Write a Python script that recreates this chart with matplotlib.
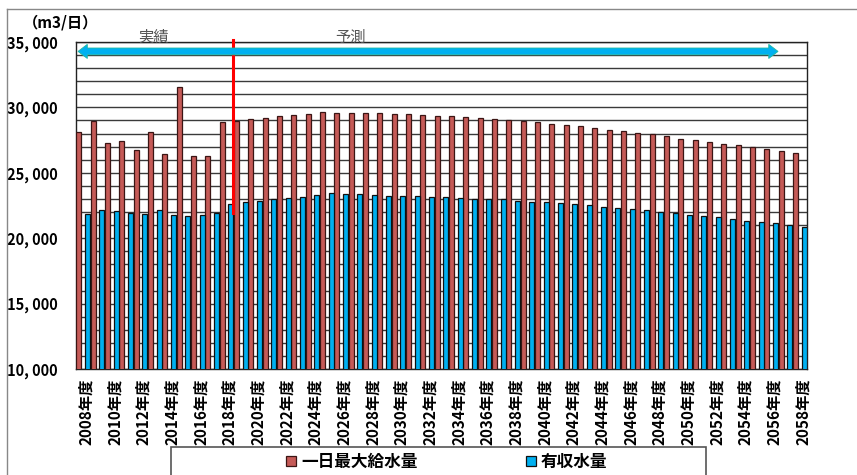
import matplotlib
matplotlib.use('Agg')
import matplotlib.pyplot as plt
import matplotlib.patches as mpatches
from matplotlib.lines import Line2D
import matplotlib.transforms as mtransforms
import numpy as np

plt.rcParams['font.family'] = ['Noto Sans CJK JP', 'DejaVu Sans']

# fiscal years 2008 - 2058
years = list(range(2008, 2059))
xlabels = [str(y) + '年度' for y in years]

# 一日最大給水量 (m3/日)
max_supply = [28150, 28980, 27300, 27400, 26760, 28110, 26430, 31560, 26300, 26300,
              28880, 28950, 29110, 29210, 29310, 29410, 29520, 29640, 29610, 29590,
              29570, 29540, 29490, 29460, 29410, 29360, 29310, 29230, 29180, 29110,
              29060, 28960, 28850, 28750, 28650, 28540, 28420, 28310, 28160, 28060,
              27960, 27780, 27620, 27500, 27370, 27240, 27090, 26970, 26790, 26630,
              26510]

# 有収水量 (m3/日)
revenue_water = [21840, 22150, 22070, 21920, 21840, 22120, 21790, 21660, 21790, 21920,
                 22650, 22760, 22860, 22990, 23090, 23170, 23270, 23420, 23370, 23370,
                 23320, 23260, 23240, 23190, 23160, 23140, 23110, 23030, 23010, 22960,
                 22880, 22800, 22750, 22670, 22600, 22530, 22420, 22320, 22220, 22140,
                 22040, 21920, 21810, 21690, 21610, 21480, 21350, 21230, 21130, 21000,
                 20890]

series_labels = ['一日最大給水量', '有収水量']
split_year = 2018

W, H = 857, 475
fig = plt.figure(figsize=(W / 100, H / 100), dpi=100)
ax = fig.add_axes([76 / W, 1 - 369 / H, (807 - 76) / W, (369 - 42) / H])

pos = np.arange(len(years))
width = 0.35
off = 0.31

# bars
ax.bar(pos - off, max_supply, width, color='#C55A57', edgecolor='#3b1514',
       linewidth=0.9, zorder=3, label=series_labels[0])
ax.bar(pos + off, revenue_water, width, color='#00B0F0', edgecolor='#101010',
       linewidth=0.9, zorder=3, label=series_labels[1])

# axis limits
ax.set_xlim(-0.5, len(years) - 0.5)
ax.set_ylim(10000, 35000)

# y ticks + grid every 1000
ax.set_yticks(range(10000, 35001, 5000))
ax.set_yticklabels(['{:,}'.format(v).replace(',', ', ') for v in range(10000, 35001, 5000)],
                   fontsize=10.5, fontweight='bold')
ax.set_yticks(range(10000, 35001, 1000), minor=True)
ax.grid(axis='y', which='both', color='#3a3a3a', linewidth=1.0, zorder=0)
ax.set_axisbelow(True)
ax.tick_params(axis='y', which='both', length=0, pad=13)

# x ticks every 2 years
ax.set_xticks(pos[::2])
ax.set_xticklabels(xlabels[::2], rotation=90, fontsize=11, fontweight='bold')
ax.tick_params(axis='x', length=0, pad=7)
shift = mtransforms.ScaledTranslation(3 / 100, 0, fig.dpi_scale_trans)
for lbl in ax.get_xticklabels():
    lbl.set_transform(lbl.get_transform() + shift)

for sp in ax.spines.values():
    sp.set_color('#222222')
    sp.set_linewidth(1.0)

# red line between actual and forecast
xs = years.index(split_year) + 0.45
ax.plot([xs, xs], [21900, 35150], color='#FF0000', linewidth=2.2, zorder=5, clip_on=False)

# double arrow
x0, x1 = -0.36, 48.48
yc, bh, hh, hl = 34280, 260, 540, 0.65
arrow = mpatches.Polygon([(x0, yc), (x0 + hl, yc + hh), (x0 + hl, yc + bh),
                          (x1 - hl, yc + bh), (x1 - hl, yc + hh), (x1, yc),
                          (x1 - hl, yc - hh), (x1 - hl, yc - bh), (x0 + hl, yc - bh),
                          (x0 + hl, yc - hh)],
                         closed=True, facecolor='#00B0F0', edgecolor='#20b8a0',
                         linewidth=0.6, zorder=6)
ax.add_patch(arrow)

fig.text(153 / W, 1 - 37 / H, '実績', fontsize=11, color='#555555', ha='center', va='center')
fig.text(350 / W, 1 - 37 / H, '予測', fontsize=11, color='#555555', ha='center', va='center')
fig.text(61 / W, 1 - 22 / H, '（m3/日）', fontsize=11, fontweight='bold', ha='center', va='center')

# legend
leg = fig.legend(loc='center left', bbox_to_anchor=(278 / W, 1 - 462 / H), ncol=2,
                 frameon=False, prop={'size': 12, 'weight': 'bold'},
                 handlelength=0.6, handleheight=0.6, handletextpad=0.3,
                 columnspacing=6.5, borderpad=0)
fig.add_artist(mpatches.Rectangle((171 / W, -0.05), (706 - 171) / W, (475 - 447) / H + 0.05,
                                  transform=fig.transFigure, fill=False,
                                  edgecolor='#555555', linewidth=1.2))

# outer chart border
fig.add_artist(Line2D([7 / W, 7 / W], [0, 1 - 9 / H], color='#888888', linewidth=1))
fig.add_artist(Line2D([7 / W, 1], [1 - 9 / H, 1 - 9 / H], color='#888888', linewidth=1))

fig.savefig('out.png', dpi=100)
